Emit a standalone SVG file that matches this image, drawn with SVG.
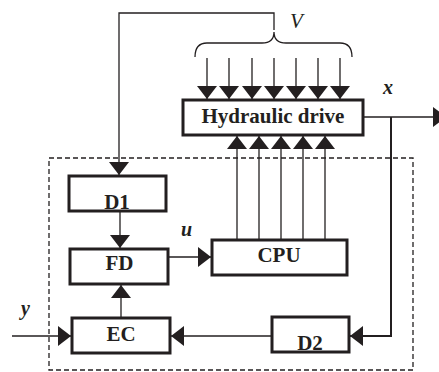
<svg xmlns="http://www.w3.org/2000/svg" width="439" height="372" viewBox="0 0 439 372">
<style>
.box{fill:#fff;stroke:#231f20;stroke-width:3}
.ln{fill:none;stroke:#231f20;stroke-width:1.3}
.lt{fill:none;stroke:#231f20;stroke-width:2}
.dash{fill:none;stroke:#231f20;stroke-width:1.3;stroke-dasharray:5,3}
.t{font-family:"Liberation Serif","Times New Roman",serif;font-weight:bold;font-size:21px;fill:#231f20;text-anchor:middle}
.lbl{font-family:"Liberation Serif","Times New Roman",serif;font-weight:bold;font-style:italic;font-size:20px;fill:#231f20}
</style>
<defs>
<marker id="ah" markerUnits="userSpaceOnUse" markerWidth="14" markerHeight="20" refX="13" refY="10" orient="auto" viewBox="0 0 14 20">
<path d="M0,0 L13,10 L0,20 Z" fill="#231f20"/>
</marker>
</defs>
<rect class="dash" x="49" y="158" width="364" height="212"/>
<g id="connectors">
<path class="ln" d="M274,30 L274,13 L119,13 L119,175" marker-end="url(#ah)"/>
<path class="ln" d="M195,57 Q195,43 207,43 L262,43 Q274,43 274,32 Q274,43 286,43 L340,43 Q352,43 352,57"/>
<line class="ln" x1="207" y1="58" x2="207" y2="99" marker-end="url(#ah)"/>
<line class="ln" x1="229" y1="58" x2="229" y2="99" marker-end="url(#ah)"/>
<line class="ln" x1="252" y1="58" x2="252" y2="99" marker-end="url(#ah)"/>
<line class="ln" x1="274" y1="58" x2="274" y2="99" marker-end="url(#ah)"/>
<line class="ln" x1="296" y1="58" x2="296" y2="99" marker-end="url(#ah)"/>
<line class="ln" x1="318" y1="58" x2="318" y2="99" marker-end="url(#ah)"/>
<line class="ln" x1="340" y1="58" x2="340" y2="99" marker-end="url(#ah)"/>
<line class="ln" x1="237" y1="240" x2="237" y2="136" marker-end="url(#ah)"/>
<line class="ln" x1="259" y1="240" x2="259" y2="136" marker-end="url(#ah)"/>
<line class="ln" x1="281" y1="240" x2="281" y2="136" marker-end="url(#ah)"/>
<line class="ln" x1="303" y1="240" x2="303" y2="136" marker-end="url(#ah)"/>
<line class="ln" x1="325" y1="240" x2="325" y2="136" marker-end="url(#ah)"/>
<line class="ln" x1="363" y1="117" x2="446" y2="117" marker-end="url(#ah)"/>
<path class="lt" d="M391,117 L391,336 L350,336" marker-end="url(#ah)"/>
<line class="ln" x1="120" y1="211" x2="120" y2="248" marker-end="url(#ah)"/>
<line class="ln" x1="121" y1="318" x2="121" y2="285" marker-end="url(#ah)"/>
<line class="ln" x1="168" y1="257" x2="211" y2="257" marker-end="url(#ah)"/>
<line class="ln" x1="12" y1="336" x2="71" y2="336" marker-end="url(#ah)"/>
<line class="ln" x1="272" y1="336" x2="171" y2="336" marker-end="url(#ah)"/>
</g>
<g id="hydraulic">
<rect class="box" x="183" y="100" width="180" height="35"/>
<text class="t" x="273" y="123">Hydraulic drive</text>
</g>
<g id="d1">
<rect class="box" x="69" y="176" width="97" height="35"/>
<text class="t" x="117" y="209">D1</text>
</g>
<g id="fd">
<rect class="box" x="70" y="249" width="98" height="35"/>
<text class="t" x="119.5" y="270">FD</text>
</g>
<g id="cpu">
<rect class="box" x="212" y="240" width="135" height="35"/>
<text class="t" x="279" y="262">CPU</text>
</g>
<g id="ec">
<rect class="box" x="72" y="318" width="98" height="35"/>
<text class="t" x="121" y="341">EC</text>
</g>
<g id="d2">
<rect class="box" x="272" y="317" width="77" height="35"/>
<text class="t" x="310" y="350">D2</text>
</g>
<g id="labels">
<text class="lbl" x="290" y="28" style="font-weight:normal;font-size:21px">V</text>
<text class="lbl" x="383" y="94">x</text>
<text class="lbl" x="181" y="236">u</text>
<text class="lbl" x="21" y="315">y</text>
</g>
</svg>
